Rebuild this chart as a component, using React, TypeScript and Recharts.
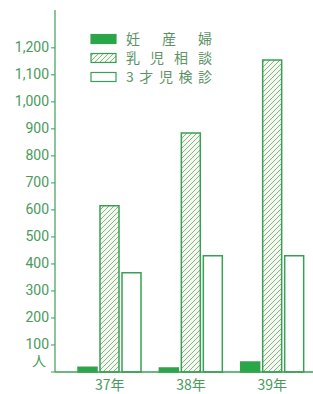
import React from 'react';
import { BarChart, Bar, XAxis, YAxis } from 'recharts';

const years = ['37年', '38年', '39年'];
const pregnant = [18, 15, 37]; // 妊産婦
const infant = [615, 885, 1155]; // 乳児相談
const checkup = [367, 430, 430]; // 3才児検診
const yTicks = [0, 100, 200, 300, 400, 500, 600, 700, 800, 900, 1000, 1100, 1200];

const series = [
 { key: 'pregnant', label: ['妊', '産', '婦'], fill: '#27a847' },
 { key: 'infant', label: ['乳', '児', '相', '談'], fill: 'url(#hatch)' },
 { key: 'checkup', label: ['3', '才', '児', '検', '診'], fill: '#ffffff' },
];

const data = years.map((y, i) => ({
 year: y,
 pregnant: pregnant[i],
 infant: infant[i],
 checkup: checkup[i],
}));

const GREEN = '#3a9f55';
const TEXT = '#4a9a5c';
const FONT = '"Noto Sans CJK JP", "Noto Sans", sans-serif';

const YTick = (props: any) => {
 const { x, y, payload } = props;
 if (payload.value === 0) {
  return (
   <text x={x - 3} y={y - 10} textAnchor="end" dominantBaseline="middle" fill={TEXT} fontSize={14} fontFamily={FONT}>
    人
   </text>
  );
 }
 return (
  <text x={x} y={y} textAnchor="end" dominantBaseline="middle" fill={TEXT} fontSize={14} fontFamily="Roboto, sans-serif">
   {payload.value.toLocaleString('en-US')}
  </text>
 );
};

// legend drawn as a plain overlay so it takes no room from the plot
const LegendBox = () => (
 <div style={{ position: 'absolute', left: 90, top: 29, fontFamily: FONT, fontSize: 14, color: '#5c9266' }}>
  {series.map((s) => (
   <div key={s.key} style={{ display: 'flex', alignItems: 'center', height: 19 }}>
    <svg width={28} height={12} style={{ marginRight: 8 }}>
     <rect x={1} y={1.5} width={25} height={9} fill={s.fill} stroke={GREEN} strokeWidth={1.2} />
    </svg>
    <div style={{ display: 'flex', justifyContent: 'space-between', width: 86, lineHeight: '19px' }}>
     {s.label.map((c, i) => (
      <span key={i}>{c}</span>
     ))}
    </div>
   </div>
  ))}
 </div>
);

export default function App() {
 return (
  <div style={{ position: 'absolute', left: 0, top: 0, width: 313, height: 394, background: '#fff' }}>
   <BarChart
    width={313}
    height={394}
    data={data}
    margin={{ top: 10, right: 0, left: 0, bottom: 2 }}
    barSize={19}
    barGap={3}
   >
    <defs>
     <pattern id="hatch" patternUnits="userSpaceOnUse" width={5} height={5}>
      <rect width={5} height={5} fill="#f4f8ee" />
      <path d="M0,5 L5,0 M-1,1 L1,-1 M4,6 L6,4" stroke="#6aa06e" strokeWidth={0.8} />
     </pattern>
    </defs>
    <XAxis
     dataKey="year"
     height={20}
     padding={{ left: 14, right: 0 }}
     axisLine={{ stroke: GREEN, strokeWidth: 1.5 }}
     tickLine={false}
     tick={{ fill: TEXT, fontSize: 14, fontFamily: FONT }}
     tickMargin={2}
    />
    <YAxis
     width={55}
     domain={[0, 1340]}
     ticks={yTicks}
     interval={0}
     axisLine={{ stroke: GREEN, strokeWidth: 1.2 }}
     tickLine={{ stroke: GREEN }}
     tickSize={4}
     tick={<YTick />}
    />
    {series.map((s) => (
     <Bar
      key={s.key}
      dataKey={s.key}
      fill={s.fill}
      stroke={GREEN}
      strokeWidth={1.5}
      isAnimationActive={false}
     />
    ))}
   </BarChart>
   <LegendBox />
  </div>
 );
}
